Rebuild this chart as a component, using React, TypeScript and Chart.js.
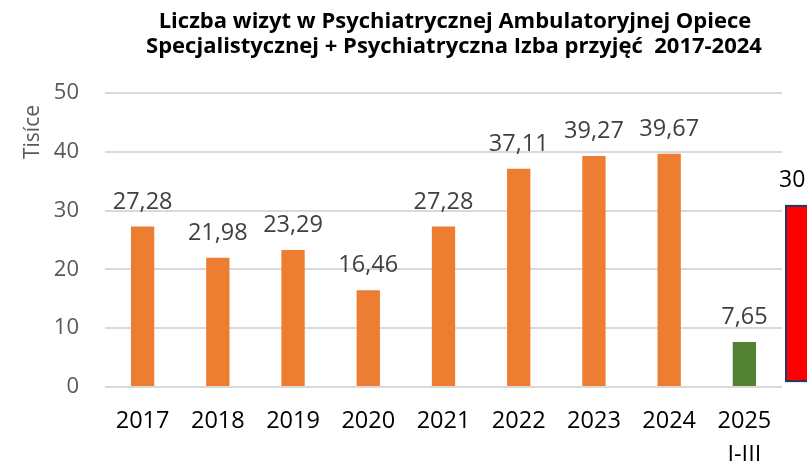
import React, { useEffect, useRef } from "react";
import { Chart, registerables } from "chart.js";

Chart.register(...registerables);

const categories: (string | string[])[] = ["2017", "2018", "2019", "2020", "2021", "2022", "2023", "2024", ["2025", "I-III"]];
const values = [27.28, 21.98, 23.29, 16.46, 27.28, 37.11, 39.27, 39.67, 7.65];
const barColors = ["#ED7D31", "#ED7D31", "#ED7D31", "#ED7D31", "#ED7D31", "#ED7D31", "#ED7D31", "#ED7D31", "#548235"];
const yMin = 0;
const yMax = 50;
const yStep = 10;
const titleLines = [
  "Liczba wizyt w Psychiatrycznej Ambulatoryjnej Opiece",
  "Specjalistycznej + Psychiatryczna Izba przyjęć  2017-2024",
];
const yAxisTitle = "Tisíce";
const sideBarRange = [1, 30.8];
const sideBarLabel = "30";

const FONT = '"Open Sans", Lato, sans-serif';
const fmt = (v: number) => v.toFixed(2).replace(".", ",");

const textPlugin = {
  id: "texts",
  afterDatasetsDraw(chart: any) {
    const ctx = chart.ctx;
    const ys = chart.scales.y;
    const area = chart.chartArea;
    ctx.save();
    // data labels
    ctx.font = `23.5px ${FONT}`;
    ctx.fillStyle = "#404040";
    ctx.textAlign = "center";
    ctx.textBaseline = "alphabetic";
    const meta = chart.getDatasetMeta(0);
    meta.data.forEach((bar: any, i: number) => {
      ctx.fillText(fmt(values[i]), bar.x, bar.y - 18);
    });
    // title
    ctx.font = `bold 22px ${FONT}`;
    ctx.fillStyle = "#000000";
    ctx.fillText(titleLines[0], 455, 28);
    ctx.fillText(titleLines[1], 454, 53);
    // y axis title
    ctx.save();
    ctx.translate(39, 132);
    ctx.rotate(-Math.PI / 2);
    ctx.font = `21px ${FONT}`;
    ctx.fillStyle = "#595959";
    ctx.fillText(yAxisTitle, 0, 0);
    ctx.restore();
    // partially visible side bar
    const top = ys.getPixelForValue(sideBarRange[1]);
    const bottom = ys.getPixelForValue(sideBarRange[0]);
    const left = area.right + 4;
    ctx.fillStyle = "#FF0000";
    ctx.strokeStyle = "#1F3864";
    ctx.lineWidth = 2;
    ctx.fillRect(left, top, 40, bottom - top);
    ctx.strokeRect(left, top, 40, bottom - top);
    ctx.font = `23px ${FONT}`;
    ctx.fillStyle = "#000000";
    ctx.textAlign = "left";
    ctx.fillText(sideBarLabel, left - 7, top - 19);
    ctx.restore();
  },
};

export default function App() {
  const ref = useRef<HTMLCanvasElement | null>(null);
  useEffect(() => {
    if (!ref.current) return;
    const chart = new Chart(ref.current, {
      type: "bar",
      data: {
        labels: categories,
        datasets: [
          {
            data: values,
            backgroundColor: barColors,
            borderWidth: 0,
            barPercentage: 0.31,
            categoryPercentage: 1,
          },
        ],
      },
      options: {
        responsive: false,
        animation: false,
        devicePixelRatio: 1,
        layout: { padding: { top: 93, right: 25, left: 0, bottom: 0 } },
        plugins: { legend: { display: false }, tooltip: { enabled: false }, title: { display: false } },
        scales: {
          x: {
            grid: { display: false, drawTicks: false },
            border: { display: false },
            ticks: {
              color: "#000000",
              font: { family: FONT, size: 23.5, lineHeight: 1.45 },
              padding: 17,
              maxRotation: 0,
              autoSkip: false,
            },
            afterFit: (s: any) => {
              s.height = 74;
            },
          },
          y: {
            min: yMin,
            max: yMax,
            grid: { color: "#D9D9D9", lineWidth: 2, drawTicks: false },
            border: { display: false },
            ticks: {
              stepSize: yStep,
              color: "#595959",
              font: { family: FONT, size: 22 },
              padding: 26,
            },
            afterFit: (s: any) => {
              s.width = 105;
            },
          },
        },
      },
      plugins: [textPlugin],
    });
    return () => chart.destroy();
  }, []);
  return (
    <div style={{ position: "absolute", left: 0, top: 0, width: 807, height: 461, background: "#fff" }}>
      <canvas ref={ref} width={807} height={461} />
    </div>
  );
}
